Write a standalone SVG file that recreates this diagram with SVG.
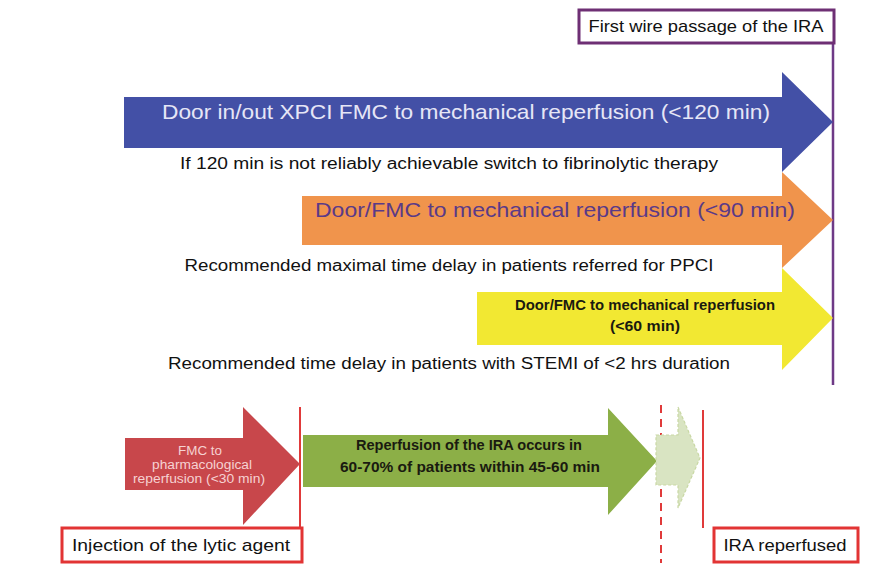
<svg xmlns="http://www.w3.org/2000/svg" width="895" height="579" viewBox="0 0 895 579">
<style>
text{font-family:"Liberation Sans",Arial,sans-serif;text-anchor:middle}
.note{font-size:16px;fill:#111}
.big{font-size:21px}
.lbl{font-size:17px;fill:#111}
.bold{font-weight:bold;font-size:14px;fill:#1a1a10}
.redline{stroke:#e03a3a;stroke-width:2;fill:none}
.box{fill:#fff;stroke-width:3}
</style>
<rect width="895" height="579" fill="#fff"/>
<g id="connectors">
<line x1="833" y1="43" x2="833" y2="385" stroke="#6e3a86" stroke-width="2.5"/>
<line class="redline" x1="300" y1="407" x2="300" y2="528"/>
<line class="redline" x1="661" y1="405" x2="661" y2="563" stroke-dasharray="8,6"/>
<line class="redline" x1="703" y1="410" x2="703" y2="528"/>
</g>
<g id="wire-box">
<rect class="box" x="579" y="10" width="255" height="33" stroke="#6e2f74"/>
<text class="lbl" x="706" y="32" textLength="235" lengthAdjust="spacingAndGlyphs">First wire passage of the IRA</text>
</g>
<g id="blue-arrow">
<polygon points="124,97 782,97 782,72 833,122 782,172 782,148 124,148" fill="#4350a6"/>
<text class="big" x="466" y="119" fill="#e6e6f6" textLength="608" lengthAdjust="spacingAndGlyphs">Door in/out XPCI FMC to mechanical reperfusion (&lt;120 min)</text>
</g>
<g id="note1"><text class="note" x="449" y="169" textLength="538" lengthAdjust="spacingAndGlyphs">If 120 min is not reliably achievable switch to fibrinolytic therapy</text></g>
<g id="orange-arrow">
<polygon points="302,196 782,196 782,172 833,220 782,268 782,245 302,245" fill="#f0944c"/>
<text class="big" x="555" y="217" fill="#5a3a88" textLength="480" lengthAdjust="spacingAndGlyphs">Door/FMC to mechanical reperfusion (&lt;90 min)</text>
</g>
<g id="note2"><text class="note" x="449" y="271" textLength="529" lengthAdjust="spacingAndGlyphs">Recommended maximal time delay in patients referred for PPCI</text></g>
<g id="yellow-arrow">
<polygon points="477,292 782,292 782,268 833,318 782,370 782,345 477,345" fill="#f2e832"/>
<text class="bold" x="645" y="310" textLength="260" lengthAdjust="spacingAndGlyphs">Door/FMC to mechanical reperfusion</text>
<text class="bold" x="645" y="331" textLength="70" lengthAdjust="spacingAndGlyphs">(&lt;60 min)</text>
</g>
<g id="note3"><text class="note" x="449" y="369" textLength="562" lengthAdjust="spacingAndGlyphs">Recommended time delay in patients with STEMI of &lt;2 hrs duration</text></g>
<g id="red-arrow">
<polygon points="125,438 243,438 243,407 300,464 243,525 243,490 125,490" fill="#c8474b"/>
<g font-size="12" fill="#f6d2d2">
<text x="200" y="455" textLength="44" lengthAdjust="spacingAndGlyphs">FMC to</text>
<text x="202" y="469" textLength="100" lengthAdjust="spacingAndGlyphs">pharmacological</text>
<text x="199" y="483" textLength="132" lengthAdjust="spacingAndGlyphs">reperfusion (&lt;30 min)</text>
</g>
</g>
<g id="green-arrow">
<polygon points="303,435 608,435 608,408 657,461 608,515 608,487 303,487" fill="#8caf47"/>
<text class="bold" x="469" y="450" textLength="226" lengthAdjust="spacingAndGlyphs">Reperfusion of the IRA occurs in</text>
<text class="bold" x="470" y="472" textLength="260" lengthAdjust="spacingAndGlyphs">60-70% of patients within 45-60 min</text>
</g>
<g id="faded-arrow">
<polygon points="656,435 678,435 678,407 700,458 678,508 678,485 656,485" fill="#d9e4c2" stroke="#c9d8a4" stroke-width="1.2" stroke-dasharray="3,2"/>
</g>
<g id="injection-box">
<rect class="box" x="62" y="528" width="240" height="34" stroke="#e23434"/>
<text class="lbl" x="181" y="551" textLength="218" lengthAdjust="spacingAndGlyphs">Injection of the lytic agent</text>
</g>
<g id="reperfused-box">
<rect class="box" x="714" y="528" width="144" height="34" stroke="#e23434"/>
<text class="lbl" x="785" y="551" textLength="123" lengthAdjust="spacingAndGlyphs">IRA reperfused</text>
</g>
</svg>
